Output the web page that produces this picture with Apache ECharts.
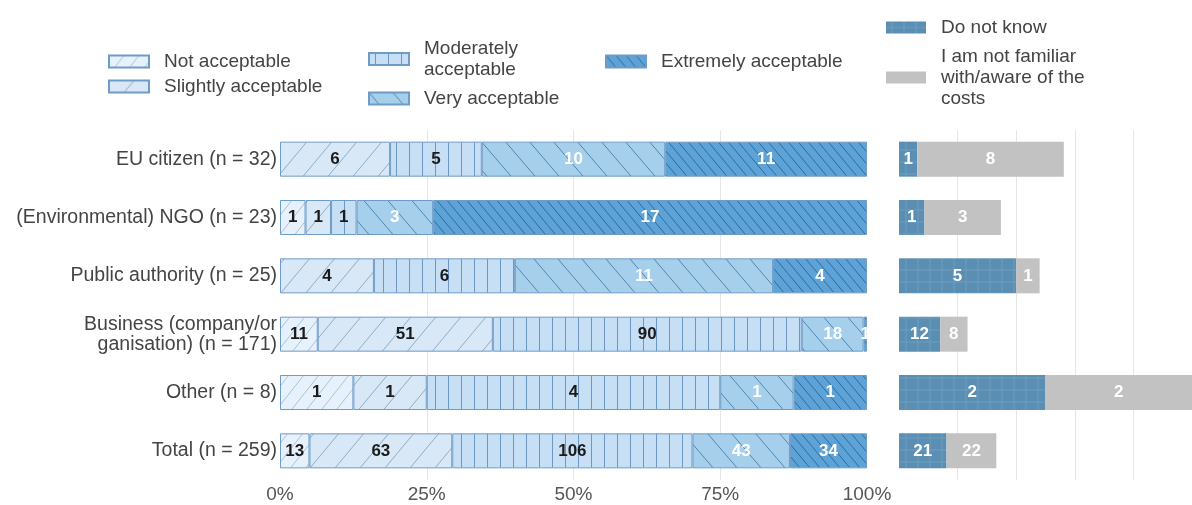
<!DOCTYPE html>
<html>
<head>
<meta charset="utf-8">
<script src="https://cdn.jsdelivr.net/npm/echarts@6/dist/echarts.min.js"></script>
<style>
  html, body { margin: 0; padding: 0; background: #ffffff; }
  #chart { width: 1192px; height: 505px; }
</style>
</head>
<body>
<div id="chart"></div>
<script>
// ---------------- data ----------------
const categories = [
  'EU citizen (n = 32)',
  '(Environmental) NGO (n = 23)',
  'Public authority (n = 25)',
  'Business (company/or\nganisation) (n = 171)',
  'Other (n = 8)',
  'Total (n = 259)'
];
const notAcceptable = [0, 1, 0, 11, 1, 13];
const slightlyAcceptable = [6, 1, 4, 51, 1, 63];
const moderatelyAcceptable = [5, 1, 6, 90, 4, 106];
const veryAcceptable = [10, 3, 11, 18, 1, 43];
const extremelyAcceptable = [11, 17, 4, 1, 1, 34];
const doNotKnow = [1, 1, 5, 12, 2, 21];
const notFamiliar = [8, 3, 1, 8, 2, 22];
const mainTicks = [0, 25, 50, 75, 100];

// ---------------- patterns ----------------
function makePattern(bg, line, kind, w, h, lw) {
  const c = document.createElement('canvas');
  c.width = w; c.height = h;
  const ctx = c.getContext('2d');
  ctx.fillStyle = bg; ctx.fillRect(0, 0, w, h);
  ctx.strokeStyle = line; ctx.lineWidth = lw;
  ctx.beginPath();
  if (kind === 'fwd') {
    for (let k = -1; k <= 1; k++) { ctx.moveTo(k * w, h); ctx.lineTo(k * w + w, 0); }
  } else if (kind === 'back') {
    for (let k = -1; k <= 1; k++) { ctx.moveTo(k * w, 0); ctx.lineTo(k * w + w, h); }
  } else if (kind === 'vert') {
    ctx.moveTo(w / 2, 0); ctx.lineTo(w / 2, h);
  } else if (kind === 'grid') {
    ctx.moveTo(w / 2, 0); ctx.lineTo(w / 2, h);
    ctx.moveTo(0, h / 2); ctx.lineTo(w, h / 2);
  }
  ctx.stroke();
  return { image: c, repeat: 'repeat' };
}

const styles = {
  na: makePattern('#e7f1fb', '#a9c3db', 'fwd', 15, 19, 1),
  sl: makePattern('#d8e8f7', '#8daecb', 'fwd', 25, 30, 1),
  mo: makePattern('#c6dff5', '#6c97c2', 'vert', 13, 13, 1),
  ve: makePattern('#a5cfeb', '#4e86b5', 'back', 24, 28, 1),
  ex: makePattern('#5ea3d7', '#2f6a9b', 'back', 10, 12, 1),
  dk: makePattern('#5a8fb3', '#6e9dbf', 'grid', 12, 12, 1)
};

const n = categories.map((_, i) =>
  notAcceptable[i] + slightlyAcceptable[i] + moderatelyAcceptable[i] + veryAcceptable[i] + extremelyAcceptable[i]);

function toPct(arr) {
  return arr.map((v, i) => v > 0 ? { value: v / n[i] * 100, count: v } : '-');
}

const FONT = "'Liberation Sans', Arial, sans-serif";
const T = 'rgba(0,0,0,0)';
const GRID = '#e6e6e6';

function mainSeries(name, arr, fill, labelColor) {
  return {
    name: name, type: 'bar', stack: 'main',
    xAxisIndex: 0, yAxisIndex: 0,
    barWidth: '60%',
    data: toPct(arr),
    itemStyle: { color: fill, borderColor: '#6f9cc6', borderWidth: 1 },
    label: {
      show: true, position: 'inside',
      formatter: p => (p.data && p.data.count) ? String(p.data.count) : '',
      color: labelColor, fontFamily: FONT, fontSize: 17, fontWeight: 'bold'
    },
    emphasis: { disabled: true }
  };
}
function sideSeries(name, arr, fill) {
  return {
    name: name, type: 'bar', stack: 'side',
    xAxisIndex: 1, yAxisIndex: 1,
    barWidth: '60%',
    data: toPct(arr),
    itemStyle: { color: fill },
    label: {
      show: true, position: 'inside',
      formatter: p => (p.data && p.data.count) ? String(p.data.count) : '',
      color: '#ffffff', fontFamily: FONT, fontSize: 17, fontWeight: 'bold'
    },
    emphasis: { disabled: true }
  };
}

function oneLegend(name, left, top) {
  return {
    data: [{ name: name, icon: 'rect' }], left: left, top: top, orient: 'vertical',
    itemWidth: 40, itemHeight: 12, itemGap: 0,
    selectedMode: false, padding: 0,
    formatter: nm => nm === 'Moderately acceptable' ? 'Moderately\nacceptable'
      : (nm === 'I am not familiar with/aware of the costs' ? 'I am not familiar\nwith/aware of the\ncosts' : nm),
    textStyle: { fontFamily: FONT, fontSize: 19, color: '#444', lineHeight: 21, padding: [0, 0, 0, 10] }
  };
}

const chart = echarts.init(document.getElementById('chart'), null, { renderer: 'canvas' });
chart.setOption({
  animation: false,
  backgroundColor: '#ffffff',
  textStyle: { fontFamily: FONT },
  legend: [
    oneLegend('Not acceptable', 108, 51),
    oneLegend('Slightly acceptable', 108, 76),
    oneLegend('Moderately acceptable', 368, 38),
    oneLegend('Very acceptable', 368, 88),
    oneLegend('Extremely acceptable', 605, 51),
    oneLegend('Do not know', 886, 17),
    oneLegend('I am not familiar with/aware of the costs', 886, 46)
  ],
  grid: [
    { left: 280, right: 325, top: 130, height: 350 },
    { left: 899, right: -7, top: 130, height: 350 }
  ],
  xAxis: [
    {
      type: 'value', gridIndex: 0, min: mainTicks[0], max: mainTicks[mainTicks.length - 1], interval: 25,
      axisLine: { show: false }, axisTick: { show: false },
      axisLabel: { formatter: '{value}%', color: '#555', fontFamily: FONT, fontSize: 19, margin: 5 },
      splitLine: { show: true, lineStyle: { color: [T, GRID, GRID, GRID, T], width: 1 } }
    },
    {
      type: 'value', gridIndex: 1, min: 0, max: 50, interval: 10,
      axisLine: { show: false }, axisTick: { show: false },
      axisLabel: { show: false },
      splitLine: { show: true, lineStyle: { color: [T, GRID, GRID, GRID, GRID, GRID], width: 1 } }
    }
  ],
  yAxis: [
    {
      type: 'category', gridIndex: 0, data: categories, inverse: true,
      axisLine: { show: false }, axisTick: { show: false },
      axisLabel: { color: '#444', fontFamily: FONT, fontSize: 19.5, margin: 3, lineHeight: 20, align: 'right' }
    },
    {
      type: 'category', gridIndex: 1, data: categories, inverse: true,
      axisLine: { show: false }, axisTick: { show: false }, axisLabel: { show: false }
    }
  ],
  series: [
    mainSeries('Not acceptable', notAcceptable, styles.na, '#1a1a1a'),
    mainSeries('Slightly acceptable', slightlyAcceptable, styles.sl, '#1a1a1a'),
    mainSeries('Moderately acceptable', moderatelyAcceptable, styles.mo, '#1a1a1a'),
    mainSeries('Very acceptable', veryAcceptable, styles.ve, '#ffffff'),
    mainSeries('Extremely acceptable', extremelyAcceptable, styles.ex, '#ffffff'),
    sideSeries('Do not know', doNotKnow, styles.dk),
    sideSeries('I am not familiar with/aware of the costs', notFamiliar, '#c2c2c2')
  ]
});
</script>
</body>
</html>
